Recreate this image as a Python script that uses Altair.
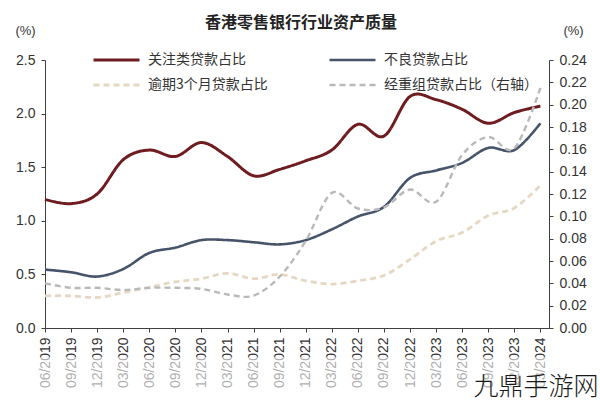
import altair as alt
import pandas as pd

quarters = ["06/2019", "09/2019", "12/2019", "03/2020", "06/2020", "09/2020", "12/2020",
            "03/2021", "06/2021", "09/2021", "12/2021", "03/2022", "06/2022", "09/2022",
            "12/2022", "03/2023", "06/2023", "09/2023", "12/2023", "03/2024"]

special_mention = [1.20, 1.16, 1.25, 1.57, 1.66, 1.60, 1.73, 1.60, 1.42, 1.48,
                   1.56, 1.66, 1.90, 1.79, 2.16, 2.13, 2.04, 1.91, 2.01, 2.07]
npl = [0.545, 0.52, 0.48, 0.55, 0.70, 0.75, 0.82, 0.82, 0.80, 0.78,
       0.82, 0.92, 1.04, 1.13, 1.40, 1.47, 1.54, 1.68, 1.66, 1.91]
overdue_3m = [0.30, 0.30, 0.285, 0.33, 0.38, 0.43, 0.46, 0.51, 0.46, 0.50,
              0.44, 0.41, 0.44, 0.49, 0.64, 0.81, 0.89, 1.05, 1.12, 1.33]
rescheduled = [0.040, 0.036, 0.036, 0.034, 0.036, 0.036, 0.035, 0.030, 0.029, 0.046,
               0.078, 0.121, 0.107, 0.108, 0.124, 0.113, 0.155, 0.171, 0.161, 0.215]

names = ["关注类贷款占比", "不良贷款占比", "逾期3个月贷款占比", "经重组贷款占比（右轴）"]
colors = ["#6e1c1f", "#46546a", "#e6d7c2", "#b9b9b9"]
dashes = [[1, 0], [1, 0], [6, 4], [6, 4]]
widths = [3, 2.6, 2.4, 2.4]
# legend fills column by column: order entries so the rows read as in the reference
legend_order = [0, 2, 1, 3]

title_text = "香港零售银行行业资产质量"
watermark = "九鼎手游网"

rows = []
for series, vals in zip(names, [special_mention, npl, overdue_3m, rescheduled]):
    for i, v in enumerate(vals):
        rows.append({"i": i, "q": quarters[i], "s": series, "v": v})
df = pd.DataFrame(rows)

W, H = 504, 268
label_expr = "[" + ",".join("'%s'" % q for q in quarters) + "][datum.value]"

dom = [names[k] for k in legend_order]
col_r = [colors[k] for k in legend_order]
dash_r = [dashes[k] for k in legend_order]
wid_r = [widths[k] for k in legend_order]

leg = alt.Legend(
    title=None, orient="none", legendX=58.5, legendY=-13, columns=2,
    symbolType="M-2,0H2", symbolSize=529, symbolStrokeWidth=3,
    labelFont="Noto Sans CJK SC", labelFontSize=14, labelColor="#333333",
    labelOffset=18.5, columnPadding=55, rowPadding=5, padding=0, labelLimit=300,
)

x_enc = alt.X(
    "i:Q",
    scale=alt.Scale(domain=[0, 19.33], nice=False, zero=False),
    axis=alt.Axis(
        title=None, values=list(range(20)), labelExpr=label_expr, labelAngle=270,
        labelFont="Liberation Sans", labelFontSize=14, labelColor="#333333",
        labelPadding=5, tickSize=4, grid=False, domainColor="#404040", tickColor="#404040",
    ),
)

color_enc = alt.Color("s:N", scale=alt.Scale(domain=dom, range=col_r), legend=leg, sort=dom)
dash_enc = alt.StrokeDash("s:N", scale=alt.Scale(domain=dom, range=dash_r), legend=leg, sort=dom)
width_enc = alt.StrokeWidth("s:N", scale=alt.Scale(domain=dom, range=wid_r), legend=leg, sort=dom)

left = alt.Chart(df).transform_filter(
    alt.FieldOneOfPredicate(field="s", oneOf=names[:3])
).mark_line(interpolate="cardinal").encode(
    x=x_enc,
    y=alt.Y("v:Q", scale=alt.Scale(domain=[0, 2.5], nice=False),
            axis=alt.Axis(title="(%)", titleAngle=0, titleX=-20, titleY=-30, titleAlign="center",
                          titleBaseline="middle", titleFont="Liberation Sans", titleFontSize=13,
                          titleFontWeight="normal", titleColor="#333333",
                          values=[0, 0.5, 1.0, 1.5, 2.0, 2.5], format=".1f",
                          labelFont="Liberation Sans", labelFontSize=14, labelColor="#333333",
                          labelPadding=6, tickSize=4, grid=False,
                          domainColor="#404040", tickColor="#404040")),
    color=color_enc, strokeDash=dash_enc, strokeWidth=width_enc,
)

right = alt.Chart(df).transform_filter(
    alt.FieldEqualPredicate(field="s", equal=names[3])
).mark_line(interpolate="cardinal").encode(
    x=x_enc,
    y=alt.Y("v:Q", scale=alt.Scale(domain=[0, 0.24], nice=False),
            axis=alt.Axis(orient="right", title="(%)", titleAngle=0, titleX=24, titleY=-30,
                          titleAlign="center", titleBaseline="middle", titleFont="Liberation Sans",
                          titleFontSize=13, titleFontWeight="normal", titleColor="#333333",
                          values=[round(0.02 * k, 2) for k in range(13)], format=".2f",
                          labelFont="Liberation Sans", labelFontSize=14, labelColor="#333333",
                          labelPadding=6, tickSize=4, grid=False,
                          domainColor="#404040", tickColor="#404040")),
    color=color_enc, strokeDash=dash_enc, strokeWidth=width_enc,
)

fade = alt.Chart(pd.DataFrame({"k": [0]})).mark_rect(color="white", opacity=0.6).encode(
    x=alt.value(-45), x2=alt.value(W + 51), y=alt.value(297), y2=alt.value(345)
)

ttl = alt.Chart(pd.DataFrame({"t": [title_text]})).mark_text(
    font="Noto Sans CJK SC", fontSize=16, fontWeight="bold", color="#222222",
    align="center", baseline="middle"
).encode(text="t:N", x=alt.value(256), y=alt.value(-37))

wm = alt.Chart(pd.DataFrame({"t": [watermark]})).mark_text(
    font="Noto Sans CJK SC", fontSize=25, fontWeight=300, color="#1a1a1a",
    align="center", baseline="alphabetic"
).encode(text="t:N", x=alt.value(W - 13), y=alt.value(H + 67))

chart = alt.layer(left, right, fade, ttl, wm).resolve_scale(y="independent").properties(
    width=W, height=H,
    autosize=alt.AutoSizeParams(type="none"),
    padding={"left": 45, "top": 60, "right": 51, "bottom": 73},
    background="white",
).configure_view(stroke=None)

chart.save("out.html", embed_options={"renderer": "svg", "actions": False})
